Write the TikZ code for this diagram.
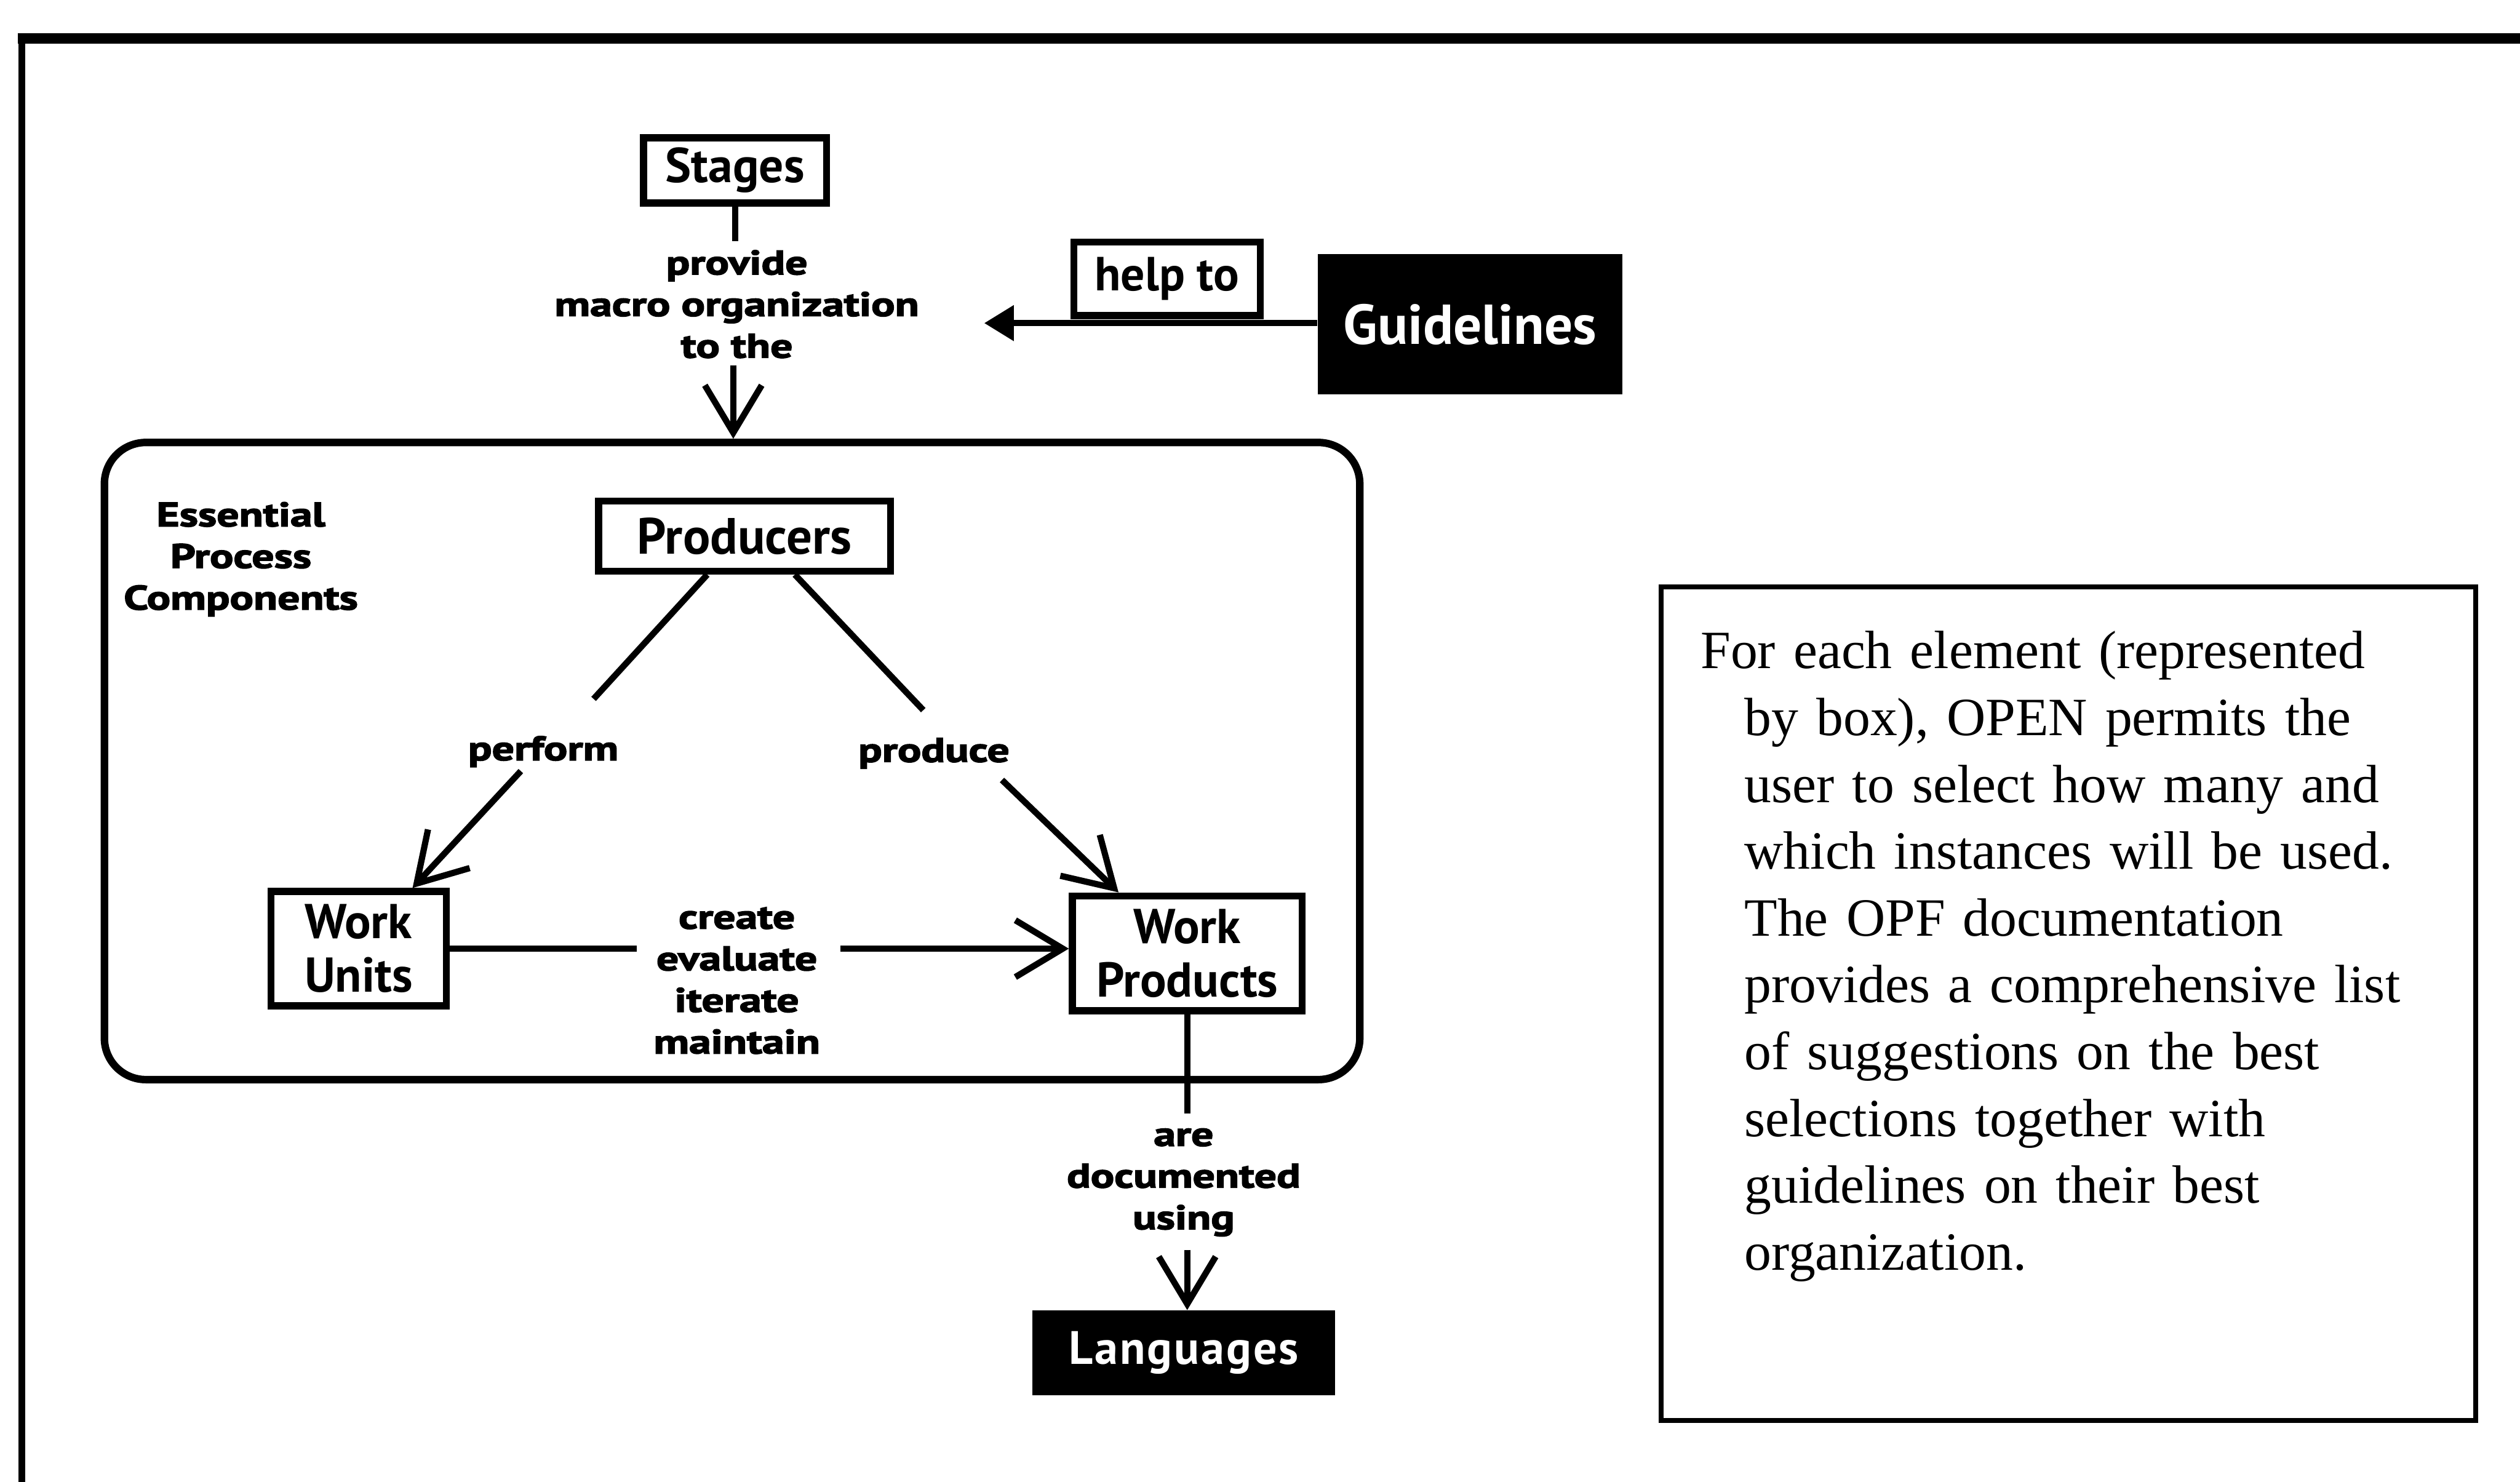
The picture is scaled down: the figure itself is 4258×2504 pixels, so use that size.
\documentclass[tikz,border=0pt]{standalone}
\usepackage{fontspec}
\usetikzlibrary{arrows.meta}
\setmainfont{Liberation Serif}
\newfontfamily\boxfam{PT Sans}
\newfontfamily\tagfam{PT Sans}[FakeStretch=1.3,FakeBold=3]

\tikzset{
  plainbox/.style={draw, line width=3.4pt, inner sep=0pt, align=center,
    font=\boxfam\bfseries\fontsize{23.5}{25.6}\selectfont},
  darkbox/.style={fill=black, text=white, inner sep=0pt, align=center},
  tag/.style={inner sep=0pt, align=center,
    font=\tagfam\bfseries\fontsize{16.3}{20}\selectfont},
  conn/.style={line width=3pt},
  openhead/.style={-{Straight Barb[length=0.8cm, width=0.96cm]}},
}

\begin{document}
\begin{tikzpicture}[x=0.01cm, y=-0.01cm]
  \useasboundingbox (0,0) rectangle (4258,2504);

  % page frame (top and left edges only)
  \draw[line width=4.8pt] (30,65) -- (4258,65);
  \draw[line width=3.4pt] (37,58) -- (37,2504);

  % top part: stages and guidelines
  \node[plainbox, minimum width=3.09cm, minimum height=1.10cm] (stages) at (1242,288) {Stages};
  \node[tag] (macro) at (1245,514) {provide\\macro organization\\to the};
  \node[plainbox, minimum width=3.15cm, minimum height=1.24cm,
        font=\boxfam\bfseries\fontsize{23}{25}\selectfont] (help) at (1972,471) {help to};
  \node[darkbox, minimum width=5.15cm, minimum height=2.37cm,
        font=\boxfam\bfseries\fontsize{27}{29}\selectfont] (guide) at (2484,548) {Guidelines};

  % container of the essential process components
  \node[draw, line width=3.6pt, rounded corners=0.7cm, minimum width=21.2cm,
        minimum height=10.76cm] (epc) at (1237,1286) {};
  \node[tag] (epclbl) at (407,945) {Essential\\Process\\Components};

  \node[plainbox, minimum width=4.93cm, minimum height=1.18cm,
        font=\boxfam\bfseries\fontsize{24.5}{26}\selectfont] (prod) at (1258,906) {Producers};
  \node[plainbox, minimum width=2.96cm, minimum height=1.93cm] (wu) at (606,1603) {Work\\Units};
  \node[plainbox, minimum width=3.88cm, minimum height=1.94cm] (wp) at (2006,1611) {Work\\Products};

  \node[tag] (perform) at (918,1270) {perform};
  \node[tag] (produce) at (1578,1273) {produce};
  \node[tag] (create) at (1245,1657) {create\\evaluate\\iterate\\maintain};
  \node[tag] (docs) at (2000,1998) {are\\documented\\using};

  \node[darkbox, minimum width=5.11cm, minimum height=1.43cm,
        font=\boxfam\bfseries\fontsize{22.5}{24}\selectfont\addfontfeature{LetterSpace=4}] (lang) at (2000,2286) {Languages};

  % explanatory note
  \node[draw, line width=2.3pt, minimum width=13.75cm, minimum height=14.07cm] (note) at (3495,1696) {};
  \node[anchor=north west, inner sep=0pt, text width=13cm, align=left,
        font=\fontsize{25.9}{32.1}\selectfont] (notetext) at (2873,1066)
    {\leftskip=0.74cm\noindent\hskip-0.74cm For each element (represented\\
     by box), OPEN permits the\\
     user to select how many and\\
     which instances will be used.\\
     The OPF documentation\\
     provides a comprehensive list\\
     of suggestions on the best\\
     selections together with\\
     guidelines on their best\\
     organization.\par};

  % connector end points around the labels
  \coordinate (s1) at (1242,407);
  \coordinate (s2) at (1239,617);
  \coordinate (gtip) at (1663,546);
  \coordinate (pl1) at (1003,1181);
  \coordinate (pl2) at (880,1303);
  \coordinate (pr1) at (1560,1200);
  \coordinate (pr2) at (1693,1318);
  \coordinate (ce1) at (1076,1603);
  \coordinate (ce2) at (1420,1603);
  \coordinate (d1) at (2006,1882);
  \coordinate (d2) at (2006,2112);

  % connectors
  \draw[conn] (stages) -- (s1);
  \draw[conn, openhead] (s2) -- (s2 |- epc.north);
  \draw[conn, -{Triangle[length=0.5cm, width=0.58cm]}] (guide.west |- gtip) -- (gtip);

  \draw[conn] ([xshift=-0.63cm]prod.south) -- (pl1);
  \draw[conn, openhead] (pl2) -- ([xshift=0.91cm]wu.north);
  \draw[conn] ([xshift=0.85cm]prod.south) -- (pr1);
  \draw[conn, openhead] (pr2) -- ([xshift=-1.16cm]wp.north);

  \draw[conn] (wu.east) -- (ce1);
  \draw[conn, openhead] (ce2) -- (wp.west |- ce2);

  \draw[conn] (wp.south) -- (d1);
  \draw[conn, openhead] (d2) -- (d2 |- lang.north);
\end{tikzpicture}
\end{document}
